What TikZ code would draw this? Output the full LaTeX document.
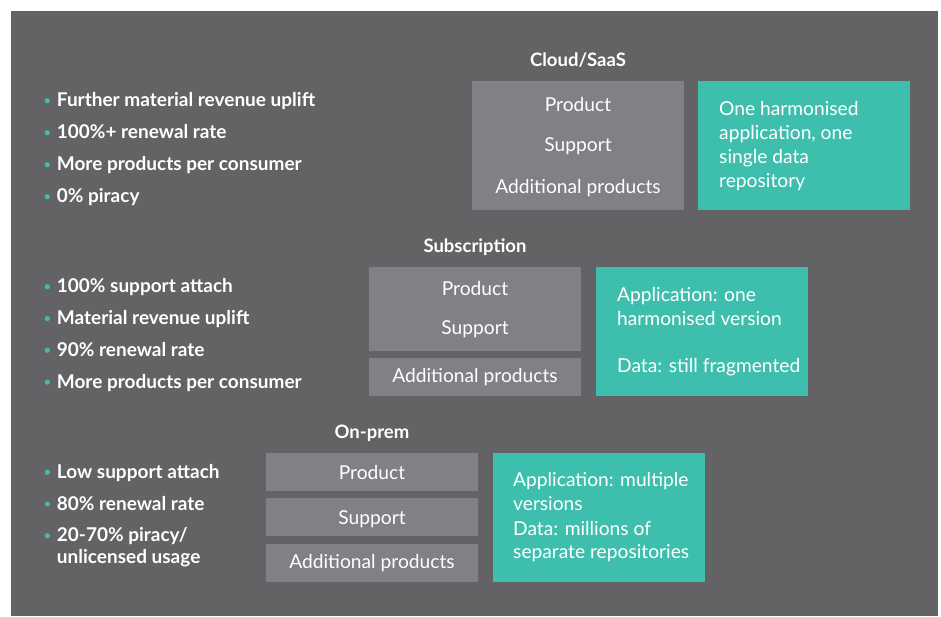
\documentclass[tikz,border=0pt]{standalone}
\usepackage{fontspec}
\setmainfont{Lato}
\definecolor{bgc}{HTML}{636365}
\definecolor{boxc}{HTML}{808184}
\definecolor{tealc}{HTML}{3EBFAD}
\tikzset{
  panel/.style={fill=bgc, draw=none},
  graybox/.style={fill=boxc, draw=none},
  tealbox/.style={fill=tealc, draw=none},
  reg/.style={text=white, inner sep=0pt, font=\fontsize{19.2}{22}\selectfont},
  boxline/.style={reg, anchor=base},
  tealline/.style={reg, anchor=base west},
  title/.style={text=white, inner sep=0pt, anchor=base, font=\fontsize{18.5}{22}\selectfont\bfseries},
  bullet/.style={text=white, inner sep=0pt, anchor=base west, font=\fontsize{19}{22}\selectfont\bfseries},
  dot/.style={fill=tealc, draw=none}
}
\newcommand{\bul}[3]{%
  \node[bullet] (#1) at (56.7,#2) {#3};
  \fill[dot] (47.3,#2-6) circle (2.6pt);}
\begin{document}
\begin{tikzpicture}[x=1pt,y=-1pt]
\useasboundingbox (0,0) rectangle (941,616);
\fill[white] (0,0) rectangle (941,616);
\fill[panel] (11,11) rectangle (938,616);

% Cloud/SaaS
\node[title] (tcloud) at (578,66.7) {Cloud/SaaS};
\path[graybox] (472,81) rectangle (684,210) node[midway] (cg) {};
\path[tealbox] (698,81) rectangle (910,210) node[midway] (ct) {};
\node[boxline] (c1) at (578,111) {Product};
\node[boxline] (c2) at (578,151.7) {Support};
\node[boxline] (c3) at (578,193) {Additional products};
\node[tealline] (ct1) at (719,115) {One harmonised};
\node[tealline] (ct2) at (719,139) {application, one};
\node[tealline] (ct3) at (719,163) {single data};
\node[tealline] (ct4) at (719,187) {repository};
\bul{cb1}{106.7}{Further material revenue uplift}
\bul{cb2}{138.7}{100\%+ renewal rate}
\bul{cb3}{170.7}{More products per consumer}
\bul{cb4}{202.7}{0\% piracy}

% Subscription
\node[title] (tsub) at (475,252.7) {Subscription};
\path[graybox] (369,267) rectangle (581,351) node[midway] (sg1) {};
\path[graybox] (369,358) rectangle (581,396) node[midway] (sg2) {};
\path[tealbox] (596,267) rectangle (808,396) node[midway] (st) {};
\node[boxline] (s1) at (475,295.7) {Product};
\node[boxline] (s2) at (475,334) {Support};
\node[boxline] (s3) at (475,382.7) {Additional products};
\node[tealline] (st1) at (617,301) {Application: one};
\node[tealline] (st2) at (617,325) {harmonised version};
\node[tealline] (st3) at (617,372.7) {Data: still fragmented};
\bul{sb1}{292.7}{100\% support attach}
\bul{sb2}{324.5}{Material revenue uplift}
\bul{sb3}{356.3}{90\% renewal rate}
\bul{sb4}{388.1}{More products per consumer}

% On-prem
\node[title] (tprem) at (372,438.3) {On-prem};
\path[graybox] (266,453) rectangle (478,491) node[midway] (pg1) {};
\path[graybox] (266,498) rectangle (478,536) node[midway] (pg2) {};
\path[graybox] (266,544) rectangle (478,582) node[midway] (pg3) {};
\path[tealbox] (493,453) rectangle (705,582) node[midway] (pt) {};
\node[boxline] (p1) at (372,479) {Product};
\node[boxline] (p2) at (372,524.3) {Support};
\node[boxline] (p3) at (372,568.7) {Additional products};
\node[tealline] (pt1) at (513,486.7) {Application: multiple};
\node[tealline] (pt2) at (513,510.7) {versions};
\node[tealline] (pt3) at (513,535) {Data: millions of};
\node[tealline] (pt4) at (513,558.7) {separate repositories};
\bul{pb1}{478.3}{Low support attach}
\bul{pb2}{510}{80\% renewal rate}
\bul{pb3}{541.7}{20-70\% piracy/}
\node[bullet] (pb4) at (56.7,563.5) {unlicensed usage};
\end{tikzpicture}
\end{document}
